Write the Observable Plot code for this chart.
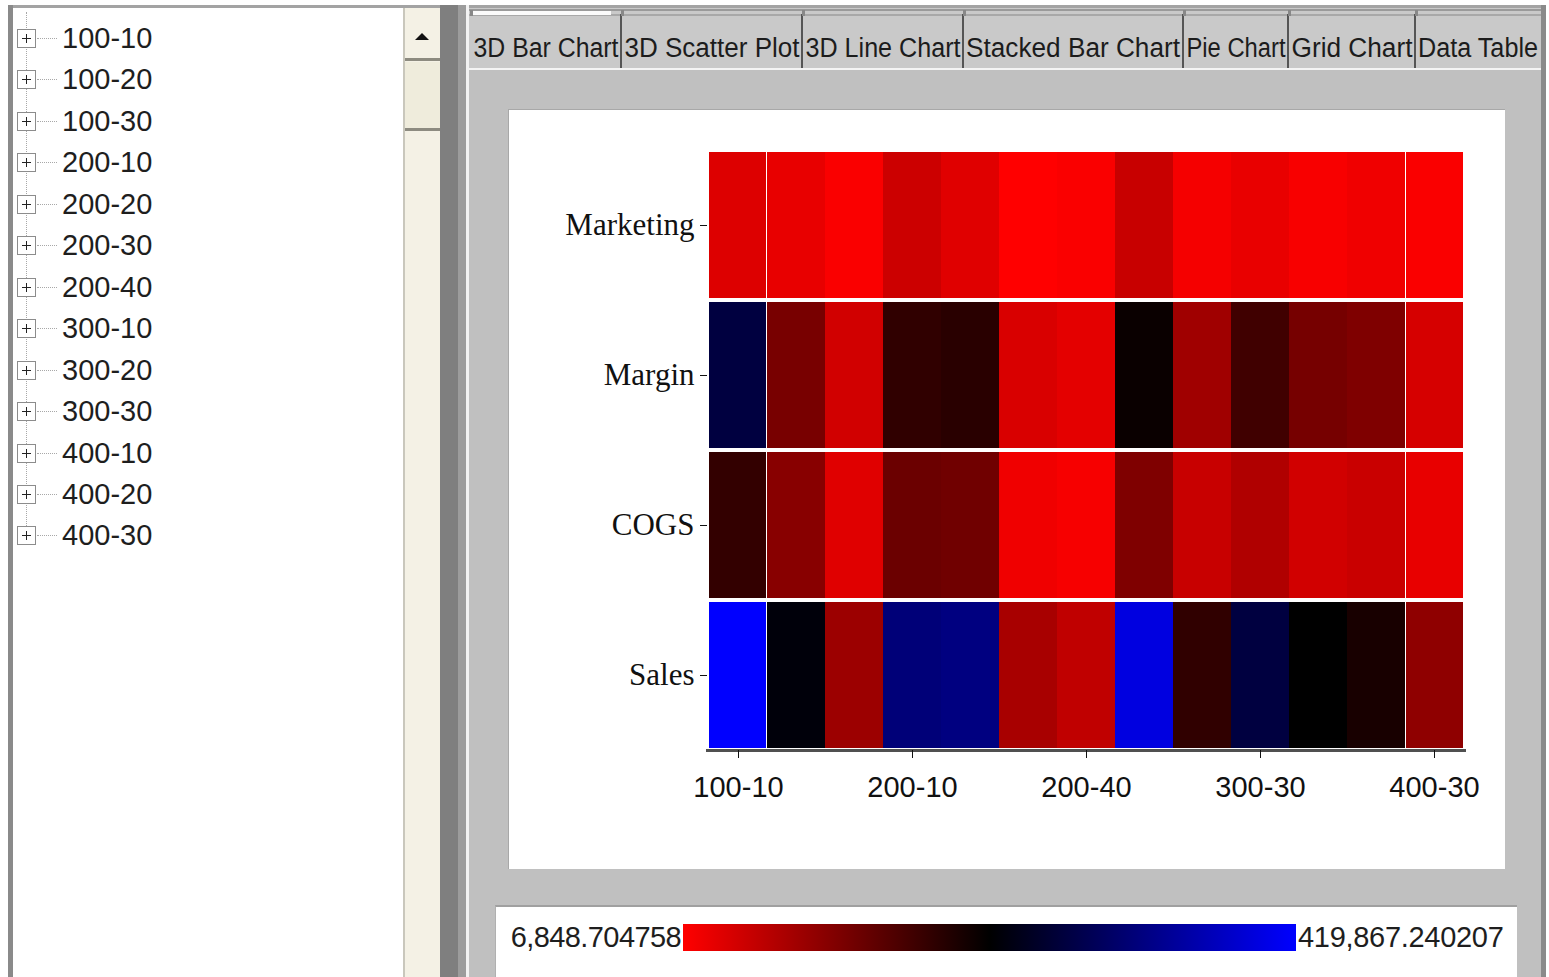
<!DOCTYPE html>
<html><head><meta charset="utf-8">
<script src="https://cdn.jsdelivr.net/npm/d3@7"></script>
<script src="https://cdn.jsdelivr.net/npm/@observablehq/plot@0.6"></script>
<style>
html,body{margin:0;padding:0}
body{width:1549px;height:977px;overflow:hidden;background:#fff;position:relative;font-family:"Liberation Sans",Arial,sans-serif;color:#1a1a1a}
.a{position:absolute;box-sizing:border-box}
</style></head><body>
<script>
// ---------- data ----------
const products = ["100-10","100-20","100-30","200-10","200-20","200-30","200-40","300-10","300-20","300-30","400-10","400-20","400-30"];
const measures = ["Marketing","Margin","COGS","Sales"];
const marketing = [34521, 25435, 10979, 48150, 31630, 6848.704758, 11200, 51455, 15109, 24900, 12218, 19239, 10500];
const margin    = [264986, 116299, 44021, 174535, 180317, 37825, 28739, 205098, 83670, 161731, 118000, 110104, 39890];
const cogs      = [172056, 103082, 31630, 126624, 122494, 19239, 13044, 110104, 51455, 70867, 44021, 50200, 25435];
const sales     = [419867.240207, 221619, 86975, 310418, 316613, 77062, 58063, 395086, 174535, 264986, 213358, 193946, 97713];
const xTickLabels = ["100-10","200-10","200-40","300-30","400-30"];
const treeItems = products;
const tabLabels = ["3D Bar Chart","3D Scatter Plot","3D Line Chart","Stacked Bar Chart","Pie Chart","Grid Chart","Data Table"];
const colorRange = ["#ff0000","#000000","#0000ff"];

// ---------- layout helpers ----------
function box(l,t,w,h,css){const d=document.createElement("div");d.className="a";Object.assign(d.style,{left:l+"px",top:t+"px",width:w+"px",height:h+"px"},css||{});document.body.appendChild(d);return d;}

// outer frame
box(8,5,1538,3,{background:"#a3a3a3"});
box(8,5,5,980,{background:"#8a8a8a"});
// tree panel
box(13,8,390,980,{background:"#fff"});
box(26,12,0,530,{borderLeft:"1px dotted #a8a8a8"});
treeItems.forEach((t,i)=>{
  const cy=38+i*41.45;
  const b=box(17,cy-9,19,19,{border:"1px solid #8c8c8c",background:"#fff"});
  b.innerHTML='<div class="a" style="left:4px;top:8px;width:9px;height:1px;background:#222"></div><div class="a" style="left:8px;top:4px;width:1px;height:9px;background:#222"></div>';
  box(37,cy,20,0,{borderTop:"1px dotted #a8a8a8"});
  const s=box(62,cy-18,120,36,{fontSize:"29px",lineHeight:"36px",color:"#1e1e1e",whiteSpace:"nowrap"});
  s.textContent=t;
});
// scrollbar
box(403,8,37,980,{background:"#f4f1e5",borderLeft:"2px solid #c9c7bc"});
box(405,12,35,46,{background:"#f4f1e5"});
box(415,33,0,0,{borderLeft:"7px solid transparent",borderRight:"7px solid transparent",borderBottom:"7px solid #111"});
box(405,58,35,3,{background:"#8d8b80"});
box(405,62,35,66,{background:"#efecdc"});
box(405,128,35,3,{background:"#8d8b80"});
// divider
box(440,5,18,980,{background:"#7f7f7f"});
box(458,5,8,980,{background:"#9c9c9c"});
box(466,5,3,980,{background:"#f2f2f2"});
// right content
box(469,8,1072,980,{background:"#c0c0c0"});
box(1541,5,5,980,{background:"#8a8a8a"});
// tab strip
box(469,8,1072,62,{background:"#c9c9c9"});
box(469,9,1072,2,{background:"#9a9a9a"});
box(469,14,1072,2,{background:"#a8a8a8"});
box(471,11,140,4,{background:"#fafafa"});
const tabEdges=[470,621,802,963,1183,1288,1415,1541];
tabLabels.forEach((t,i)=>{
  const l=tabEdges[i], w=tabEdges[i+1]-l;
  const tb=box(l,18,w,50,{background:"#c9c9c9"});
  const tx=document.createElement("div");
  Object.assign(tx.style,{position:"absolute",left:"50%",top:"4px",whiteSpace:"nowrap",fontSize:"27px",lineHeight:"52px",color:"#1c1c1c",transformOrigin:"0 50%"});
  tx.textContent=t; tb.appendChild(tx);
  const tw=tx.getBoundingClientRect().width;
  const s=Math.min(1,(w-6)/tw);
  tx.style.transform=`translateX(${-tw*s/2}px) scaleX(${s})`;
  if(i>0) box(l-1,14,2,54,{background:"#555"});
  box(l,10,3,6,{background:"#888"});
});
box(469,68,1072,2,{background:"#f4f4f4"});
// chart panel
box(508,109,997,760,{background:"#fff",borderTop:"1px solid #a8a8a8",borderLeft:"1px solid #a8a8a8"});
// legend panel
box(495,905,1022,80,{background:"#fff",borderTop:"2px solid #a0a0a0",borderLeft:"1px solid #b0b0b0"});

// ---------- chart ----------
const series=[marketing,margin,cogs,sales];
const data=measures.flatMap((m,i)=>products.map((p,j)=>({measure:m,product:p,value:series[i][j]})));
const lo=d3.min(data,d=>d.value), hi=d3.max(data,d=>d.value);
const colorDomain=[lo,(lo+hi)/2,hi];
const first=products[0], last=products[products.length-1];
const cellOpts={x:"product",y:"measure",fill:"value",insetTop:2,insetBottom:2};
const chart=Plot.plot({
  width:995,height:758,marginLeft:198,marginRight:40,marginTop:40,marginBottom:118,
  x:{domain:products,padding:0,label:null},
  y:{domain:measures,padding:0,label:null},
  color:{type:"linear",domain:colorDomain,range:colorRange,interpolate:"rgb"},
  style:{background:"transparent",overflow:"visible",color:"#111"},
  marks:[
    Plot.cell(data.filter(d=>d.product===first),{...cellOpts,insetRight:1}),
    Plot.cell(data.filter(d=>d.product!==first&&d.product!==last),cellOpts),
    Plot.cell(data.filter(d=>d.product===last),{...cellOpts,insetLeft:1}),
    Plot.frame({anchor:"bottom",stroke:"#505050",strokeWidth:3}),
    Plot.axisX({ticks:xTickLabels,tickSize:8,tickPadding:18,fontSize:29,fontFamily:"Liberation Sans"}),
    Plot.axisY({tickSize:7,tickPadding:6,fontSize:31,fontFamily:"Liberation Serif"})
  ]
});
chart.style.position="absolute";chart.style.left="509px";chart.style.top="110px";
document.body.appendChild(chart);

// ---------- colour legend ----------
const fmt=d3.format(",.6f");
const stops=colorDomain.map((v,i)=>`${colorRange[i]} ${((v-lo)/(hi-lo)*100).toFixed(2)}%`).join(",");
box(683,924,613,27,{background:`linear-gradient(to right, ${stops})`});
const l1=box(495,917,186,40,{fontSize:"29px",lineHeight:"40px",textAlign:"right",color:"#1e1e1e",letterSpacing:"-0.6px"});
l1.textContent=fmt(lo);
const l2=box(1298,917,218,40,{fontSize:"29px",lineHeight:"40px",color:"#1e1e1e",letterSpacing:"-0.3px"});
l2.textContent=fmt(hi);
</script>
</body></html>
